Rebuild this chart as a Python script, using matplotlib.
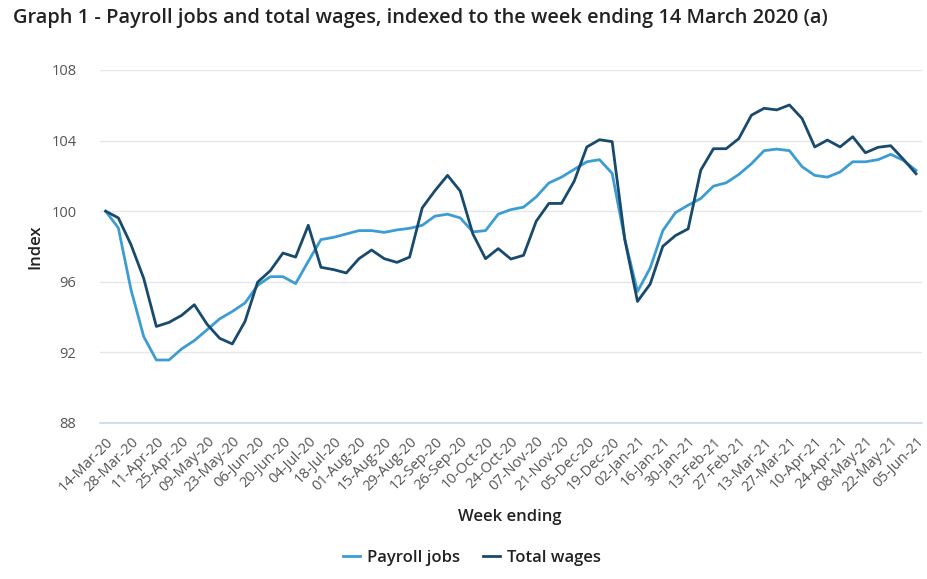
import matplotlib
matplotlib.use("Agg")
import matplotlib.pyplot as plt
import numpy as np
import pandas as pd

plt.rcParams['font.family'] = ['Open Sans', 'DejaVu Sans']

weeks = pd.date_range("2020-03-14", "2021-06-05", freq="7D")
week_labels = [d.strftime("%d-%b-%y") for d in weeks]

payroll_jobs = [
    100.0, 99.05, 95.55, 92.9, 91.57, 91.57, 92.2, 92.67, 93.28, 93.9,
    94.32, 94.8, 95.8, 96.29, 96.29, 95.9, 97.16, 98.39, 98.52, 98.71,
    98.9, 98.9, 98.8, 98.94, 99.03, 99.2, 99.72, 99.83, 99.62, 98.83,
    98.9, 99.83, 100.09, 100.23, 100.81, 101.6, 101.93, 102.37, 102.8, 102.92,
    102.14, 98.4, 95.45, 96.78, 98.9, 99.92, 100.34, 100.72, 101.42, 101.61,
    102.08, 102.69, 103.43, 103.52, 103.43, 102.52, 102.03, 101.93, 102.22, 102.8,
    102.8, 102.92, 103.22, 102.88, 102.31,
]
total_wages = [
    100.0, 99.62, 98.1, 96.2, 93.47, 93.7, 94.1, 94.7, 93.6, 92.8,
    92.48, 93.75, 95.98, 96.63, 97.63, 97.4, 99.2, 96.82, 96.69, 96.5,
    97.31, 97.8, 97.31, 97.1, 97.4, 100.19, 101.16, 102.03, 101.14, 98.71,
    97.31, 97.88, 97.29, 97.5, 99.43, 100.44, 100.44, 101.7, 103.64, 104.05,
    103.94, 98.39, 94.89, 95.87, 98.01, 98.62, 99.0, 102.33, 103.54, 103.54,
    104.11, 105.44, 105.83, 105.74, 106.02, 105.25, 103.64, 104.03, 103.64, 104.22,
    103.31, 103.62, 103.71, 102.94, 102.12,
]
y_ticks = [88, 92, 96, 100, 104, 108]

title = "Graph 1 - Payroll jobs and total wages, indexed to the week ending 14 March 2020 (a)"
c_jobs = "#3c9dd3"
c_wages = "#184a6d"

fig = plt.figure(figsize=(9.28, 5.79), dpi=100)
ax = fig.add_axes([100/928, 1 - 423/579, 822/928, 353/579])

x = np.arange(len(weeks))
ax.plot(x, payroll_jobs, color=c_jobs, lw=2.0, label="Payroll jobs", solid_joinstyle="round")
ax.plot(x, total_wages, color=c_wages, lw=2.0, label="Total wages", solid_joinstyle="round")

ax.set_ylim(88, 108)
ax.set_xlim(-0.45, 64.47)
ax.set_yticks(y_ticks)
ax.set_yticklabels([str(v) for v in y_ticks], color="#555555", fontsize=10.5)
ax.set_xticks(x[::2])
ax.set_xticklabels(week_labels[::2], rotation=45, ha="right", rotation_mode="anchor",
                   color="#555555", fontsize=10.5)
ax.tick_params(axis="both", length=0)
ax.tick_params(axis="y", pad=17)
ax.tick_params(axis="x", pad=8)
ax.grid(axis="y", color="#e6e6e6", lw=1)
ax.set_axisbelow(True)
for s in ["top", "right", "left"]:
    ax.spines[s].set_visible(False)
ax.spines["bottom"].set_color("#ccd6eb")
ax.spines["bottom"].set_linewidth(1.2)

ax.set_ylabel("Index", fontsize=12, color="#222222", fontweight="semibold", labelpad=6)
fig.text(510/928, 1 - 517/579, "Week ending", fontsize=12, color="#222222",
         ha="center", va="center", fontweight="semibold")

fig.text(13/928, 1 - 18/579, title, fontsize=14.4, color="#222222",
         ha="left", va="center", fontweight="semibold")

leg = fig.legend(loc="center", bbox_to_anchor=(472/928, 1 - 558/579), ncol=2, frameon=False,
                 fontsize=12, handlelength=1.0, columnspacing=1.4, handletextpad=0.4)
for t in leg.get_texts():
    t.set_color("#222222")
    t.set_fontweight("semibold")

fig.savefig("out.png", dpi=100)
